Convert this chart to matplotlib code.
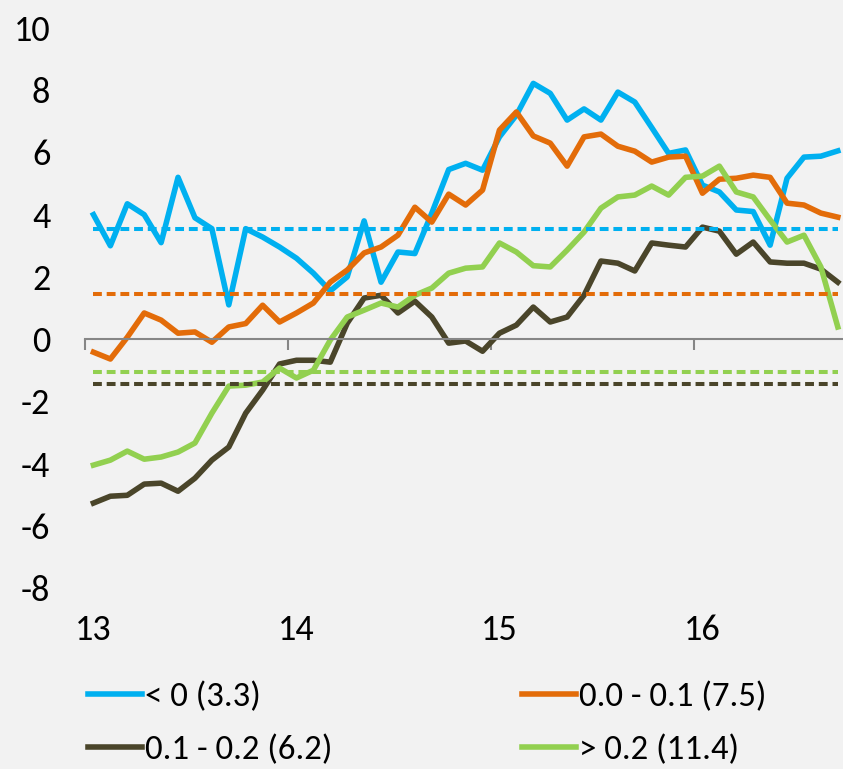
# -*- coding: utf-8 -*-
# Series mensuales por grupo, con su promedio en linea punteada

import numpy as np
import matplotlib.pyplot as plt

# ---- datos ----
n_months   = 45                       # ene-2013 a sep-2016
year_ticks = [13, 14, 15, 16]

labels_series = ['< 0 (3.3)', '0.1 - 0.2 (6.2)', '0.0 - 0.1 (7.5)', '> 0.2 (11.4)']

serie_neg = [4.0, 3.0, 4.35, 4.0, 3.1, 5.2, 3.9, 3.55, 1.1, 3.55,
             3.28, 2.96, 2.6, 2.12, 1.55, 2.0, 3.8, 1.83, 2.8, 2.75,
             4.05, 5.45, 5.65, 5.43, 6.5, 7.2, 8.22, 7.9, 7.04, 7.4,
             7.04, 7.94, 7.62, 6.8, 5.97, 6.08, 4.95, 4.73, 4.15, 4.1,
             3.02, 5.17, 5.85, 5.88, 6.05]

serie_01 = [-0.42, -0.64, 0.06, 0.84, 0.61, 0.19, 0.23, -0.1, 0.39, 0.5,
            1.09, 0.55, 0.84, 1.16, 1.83, 2.22, 2.77, 2.96, 3.34, 4.24,
            3.76, 4.66, 4.31, 4.79, 6.72, 7.3, 6.53, 6.3, 5.56, 6.5,
            6.59, 6.2, 6.04, 5.69, 5.85, 5.88, 4.69, 5.14, 5.17, 5.27,
            5.2, 4.37, 4.31, 4.05, 3.92]

serie_02 = [-5.27, -5.05, -5.02, -4.66, -4.63, -4.89, -4.47, -3.89, -3.47, -2.38,
            -1.64, -0.8, -0.68, -0.68, -0.74, 0.51, 1.32, 1.41, 0.84, 1.22,
            0.71, -0.13, -0.06, -0.39, 0.19, 0.45, 1.03, 0.55, 0.71, 1.41,
            2.51, 2.44, 2.19, 3.09, 3.02, 2.96, 3.6, 3.47, 2.73, 3.12,
            2.48, 2.44, 2.44, 2.25, 1.83]

serie_pos = [-4.05, -3.89, -3.6, -3.86, -3.79, -3.63, -3.34, -2.38, -1.51, -1.48,
             -1.38, -0.93, -1.25, -1.0, -0.03, 0.71, 0.93, 1.16, 1.03, 1.41,
             1.64, 2.12, 2.28, 2.32, 3.09, 2.8, 2.36, 2.32, 2.86, 3.44,
             4.21, 4.57, 4.63, 4.92, 4.63, 5.2, 5.24, 5.56, 4.73, 4.57,
             3.83, 3.12, 3.34, 2.32, 0.39]

# promedios (lineas punteadas)
mean_neg = 3.54
mean_01  = 1.45
mean_02  = -1.45
mean_pos = -1.06

# ---- estilo ----
col_neg = '#00b0f0'
col_01  = '#e36c09'
col_02  = '#4a452a'
col_pos = '#92d050'
bg_col  = '#f2f2f2'

plt.rcParams['font.family'] = ['Carlito', 'Liberation Sans', 'DejaVu Sans']
plt.rcParams['axes.unicode_minus'] = False
label_size = 26
leg_size   = 25

x_vals = 13. + (np.arange(n_months) + 0.5) / 12.

fig1 = plt.figure(figsize = (8.43, 7.69), dpi = 100)
fig1.patch.set_facecolor(bg_col)
ax1 = fig1.add_axes([85/843., (769-588)/769., 1. - 85/843., (588-28)/769.])
ax1.set_facecolor(bg_col)

lw = 4.0
dash_kw = dict(linewidth = 2.9, dashes = (2.2, 1.2))

l_neg, = ax1.plot(x_vals, serie_neg, color = col_neg, linewidth = lw, solid_joinstyle = 'round')
l_01,  = ax1.plot(x_vals, serie_01,  color = col_01,  linewidth = lw, solid_joinstyle = 'round')
l_02,  = ax1.plot(x_vals, serie_02,  color = col_02,  linewidth = lw, solid_joinstyle = 'round')
l_pos, = ax1.plot(x_vals, serie_pos, color = col_pos, linewidth = lw, solid_joinstyle = 'round')

ax1.plot(x_vals, np.full(n_months, mean_neg), color = col_neg, **dash_kw)
ax1.plot(x_vals, np.full(n_months, mean_01),  color = col_01,  **dash_kw)
ax1.plot(x_vals, np.full(n_months, mean_02),  color = col_02,  **dash_kw)
ax1.plot(x_vals, np.full(n_months, mean_pos), color = col_pos, **dash_kw)

ax1.set_xlim(13., 13. + (843 - 85) / 203.)
ax1.set_ylim(-8., 10.)
ax1.set_yticks(np.arange(-8, 11, 2))
ax1.tick_params(axis = 'y', length = 0, pad = 25, labelsize = label_size)

for side in ['left', 'right', 'top']:
    ax1.spines[side].set_visible(False)

# eje x cruzando en cero, etiquetas abajo
ax1.spines['bottom'].set_position(('data', 0))
ax1.spines['bottom'].set_color('#868686')
ax1.spines['bottom'].set_linewidth(1.5)
ax1.set_xticks(year_ticks)
ax1.tick_params(axis = 'x', direction = 'out', length = 8, width = 1.5,
                color = '#868686', labelbottom = False)

# etiquetas de anio centradas en el primer mes
ax_lab = ax1.secondary_xaxis('bottom')
ax_lab.spines['bottom'].set_visible(False)
ax_lab.set_xticks([y + 0.5/12. for y in year_ticks])
ax_lab.set_xticklabels([str(y) for y in year_ticks])
ax_lab.tick_params(axis = 'x', length = 0, pad = 19, labelsize = label_size)

leg_kw = dict(loc = 'center left', frameon = False, fontsize = leg_size,
              handlelength = 1.55, handletextpad = 0.1, labelspacing = 0.65,
              borderaxespad = 0., borderpad = 0.)
leg1 = fig1.legend([l_neg, l_02], labels_series[:2],
                   bbox_to_anchor = (88/843., (769-723)/769.), **leg_kw)
leg2 = fig1.legend([l_01, l_pos], labels_series[2:],
                   bbox_to_anchor = (522/843., (769-723)/769.), **leg_kw)

plt.savefig('out.png', format = 'png', dpi = 100, facecolor = bg_col)
